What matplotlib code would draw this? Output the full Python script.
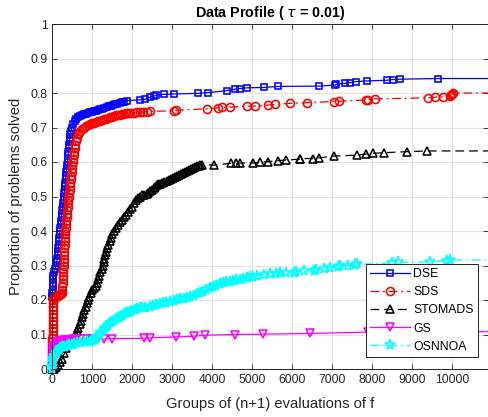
import numpy as np
import matplotlib
matplotlib.use('Agg')
import matplotlib.pyplot as plt
from matplotlib.ticker import FormatStrFormatter

plt.rcParams['font.family'] = ['Liberation Sans', 'DejaVu Sans']

x_max = 10900

# DSE
dse_x = [0, 0, 5, 10, 15, 20, 25, 30, 60, 100, 110, 120, 130, 140, 150, 158, 166, 174, 182, 190,
         200, 210, 220, 230, 240, 250, 260, 270, 280, 290, 299, 308, 317, 326, 335, 344, 353, 362,
         371, 380, 388, 396, 404, 412, 420, 430, 440, 452, 468, 490, 520, 560, 600, 640, 690,
         740, 790, 840, 890, 940, 990, 1040, 1090, 1150, 1200, 1250, 1300, 1360, 1420, 1470,
         1520, 1570, 1620, 1680, 1730, 1800, 1870, 2190, 2320, 2450, 2530, 2600, 2780, 3030,
         3650, 3900, 4360, 4570, 4690, 4860, 5280, 5630, 6670, 7070, 7080, 7320, 7440, 7580,
         7870, 8360, 8510, 8700, 9630]
dse_y = [0.21, 0.22, 0.23, 0.24, 0.25, 0.26, 0.27, 0.28, 0.29, 0.30, 0.31, 0.32, 0.33, 0.34, 0.35,
         0.36, 0.37, 0.38, 0.39, 0.40, 0.41, 0.42, 0.43, 0.44, 0.45, 0.46, 0.47, 0.48, 0.49, 0.50,
         0.51, 0.52, 0.53, 0.54, 0.55, 0.56, 0.57, 0.58, 0.59, 0.60, 0.61, 0.62, 0.63, 0.64, 0.65,
         0.66, 0.67, 0.68, 0.69, 0.70, 0.71, 0.72, 0.725, 0.73, 0.733, 0.736, 0.738, 0.740,
         0.742, 0.744, 0.746, 0.748, 0.749, 0.751, 0.753, 0.755, 0.757, 0.759, 0.761, 0.763,
         0.765, 0.767, 0.769, 0.771, 0.773, 0.775, 0.778, 0.780, 0.782, 0.788, 0.790, 0.794,
         0.796, 0.797, 0.799, 0.801, 0.807, 0.811, 0.813, 0.815, 0.816, 0.819, 0.820, 0.823,
         0.825, 0.828, 0.830, 0.833, 0.835, 0.837, 0.839, 0.840, 0.842]

# SDS
sds_x = [0, 0, 2, 3, 4, 5, 6, 7, 8, 9, 10, 11, 12, 14, 16, 20, 40, 70, 100, 130, 160, 190, 215,
         235, 245, 252, 258, 263, 267, 271, 275, 280, 284, 289, 293, 298, 302, 306, 311, 316, 320,
         325, 333, 341, 350, 358, 367, 375, 384, 392, 401, 410, 420, 430, 440, 450, 460, 470, 480,
         490, 500, 510, 522, 534, 546, 558, 570, 585, 605, 630, 660, 690, 730, 780, 830, 880,
         930, 980, 1030, 1080, 1130, 1180, 1230, 1280, 1330, 1380, 1430, 1480, 1530, 1580, 1630,
         1680, 1730, 1780, 1830, 1880, 1950, 2030, 2110, 2180, 2260, 2360, 2450, 3030, 3100,
         3860, 4150, 4230, 4440, 4860, 5070, 5400, 5570, 5940, 6360, 7040, 7160, 7840, 7880,
         8070, 9400, 9570, 9770, 9930, 9970, 10000, 10010]
sds_y = [0.05, 0.06, 0.07, 0.08, 0.09, 0.10, 0.11, 0.12, 0.13, 0.14, 0.15, 0.16, 0.17, 0.18, 0.19,
         0.20, 0.205, 0.207, 0.21, 0.212, 0.214, 0.216, 0.218, 0.22, 0.23, 0.24, 0.25, 0.26, 0.27,
         0.28, 0.29, 0.30, 0.31, 0.32, 0.33, 0.34, 0.35, 0.36, 0.37, 0.38, 0.39, 0.40, 0.41, 0.42,
         0.43, 0.44, 0.45, 0.46, 0.47, 0.48, 0.49, 0.50, 0.51, 0.52, 0.53, 0.54, 0.55, 0.56, 0.57,
         0.58, 0.59, 0.60, 0.61, 0.62, 0.63, 0.64, 0.65, 0.66, 0.67, 0.68, 0.685, 0.69, 0.695,
         0.70, 0.703, 0.706, 0.709, 0.712, 0.714, 0.716, 0.718, 0.720, 0.722, 0.724, 0.726,
         0.728, 0.730, 0.731, 0.733, 0.735, 0.736, 0.737, 0.739, 0.740, 0.741, 0.741, 0.742,
         0.743, 0.744, 0.745, 0.745, 0.746, 0.747, 0.748, 0.750, 0.754, 0.757, 0.758, 0.759,
         0.762, 0.762, 0.765, 0.767, 0.770, 0.772, 0.775, 0.776, 0.780, 0.781, 0.783, 0.786,
         0.788, 0.789, 0.792, 0.795, 0.798, 0.800]

# STOMADS
sto_x = [0, 50, 100, 150, 200, 250, 300, 350, 400, 450, 500, 550, 590, 620, 650, 680, 710, 740,
         770, 800, 830, 860, 890, 920, 960, 1000, 1040, 1080, 1110, 1140, 1170, 1200, 1230, 1255,
         1280, 1300, 1320, 1345, 1370, 1400, 1430, 1465, 1500, 1540, 1580, 1630, 1680, 1730,
         1780, 1830, 1880, 1930, 1980, 2030, 2080, 2130, 2190, 2250, 2300, 2360, 2400, 2440,
         2480, 2530, 2570, 2610, 2650, 2700, 2750, 2800, 2860, 2910, 2960, 3010, 3060, 3110,
         3160, 3210, 3260, 3310, 3360, 3410, 3460, 3510, 3560, 3610, 3660, 3700, 3735, 4040,
         4460, 4600, 4690, 5020, 5180, 5400, 5650, 5840, 6190, 6200, 6510, 6670, 7030, 7610,
         7840, 8010, 8290, 8860, 9360]
sto_y = [0.0, 0.0, 0.005, 0.012, 0.02, 0.03, 0.045, 0.06, 0.075, 0.08, 0.086, 0.092, 0.10, 0.11,
         0.12, 0.13, 0.14, 0.15, 0.16, 0.17, 0.18, 0.19, 0.20, 0.21, 0.22, 0.228, 0.235, 0.242,
         0.25, 0.26, 0.27, 0.28, 0.29, 0.30, 0.31, 0.32, 0.33, 0.34, 0.35, 0.36, 0.37, 0.38,
         0.39, 0.40, 0.41, 0.418, 0.426, 0.433, 0.44, 0.447, 0.455, 0.463, 0.471, 0.48, 0.489,
         0.496, 0.50, 0.503, 0.505, 0.506, 0.51, 0.515, 0.52, 0.524, 0.528, 0.532, 0.535, 0.537,
         0.54, 0.542, 0.545, 0.548, 0.551, 0.554, 0.557, 0.56, 0.563, 0.566, 0.569, 0.572,
         0.575, 0.578, 0.58, 0.583, 0.585, 0.587, 0.589, 0.59, 0.592, 0.591, 0.596, 0.596,
         0.597, 0.597, 0.599, 0.601, 0.604, 0.606, 0.608, 0.610, 0.610, 0.612, 0.617, 0.620,
         0.623, 0.625, 0.627, 0.630, 0.632]

# GS
gs_x = [0, 0, 2, 4, 6, 8, 12, 20, 30, 50, 80, 110, 150, 200, 250, 300, 360, 420, 480, 525, 600,
        700, 860, 1000, 1280, 1490, 2280, 2440, 3100, 3550, 3810, 4575, 5260, 6440, 7900, 10000]
gs_y = [0.0, 0.01, 0.02, 0.03, 0.04, 0.05, 0.055, 0.06, 0.065, 0.068, 0.071, 0.074, 0.077, 0.079,
        0.081, 0.083, 0.084, 0.085, 0.0855, 0.086, 0.086, 0.086, 0.087, 0.087, 0.087, 0.088,
        0.089, 0.090, 0.093, 0.095, 0.098, 0.100, 0.101, 0.103, 0.107, 0.108]

# OSNNOA
osn_x = [0, 0, 10, 25, 50, 80, 120, 160, 200, 250, 300, 360, 420, 480, 550, 620, 700, 780, 860,
         940, 1000, 1040, 1080, 1120, 1160, 1200, 1240, 1280, 1320, 1360, 1400, 1450, 1500, 1550,
         1600, 1650, 1700, 1750, 1800, 1850, 1900, 1950, 2000, 2060, 2120, 2190, 2250, 2320,
         2440, 2520, 2600, 2680, 2760, 2850, 2940, 3030, 3110, 3200, 3280, 3360, 3440, 3530,
         3610, 3690, 3770, 3850, 3940, 4020, 4100, 4190, 4270, 4350, 4440, 4520, 4600, 4690,
         4770, 4860, 4940, 5020, 5110, 5300, 5450, 5590, 5700, 5850, 6030, 6100, 6300, 6530,
         6600, 6800, 6950, 7150, 7200, 7400, 7570, 7620, 8480, 8650, 9440, 9860, 9940]
osn_y = [0.0, 0.01, 0.02, 0.03, 0.038, 0.045, 0.05, 0.055, 0.06, 0.063, 0.065, 0.067, 0.069,
         0.071, 0.073, 0.074, 0.076, 0.077, 0.078, 0.079, 0.08, 0.083, 0.087, 0.092, 0.097,
         0.103, 0.108, 0.113, 0.118, 0.123, 0.128, 0.132, 0.136, 0.14, 0.144, 0.148, 0.152,
         0.155, 0.158, 0.161, 0.163, 0.165, 0.167, 0.17, 0.173, 0.176, 0.177, 0.178, 0.18,
         0.182, 0.185, 0.187, 0.19, 0.192, 0.194, 0.197, 0.2, 0.202, 0.204, 0.207, 0.21, 0.213,
         0.216, 0.22, 0.224, 0.229, 0.235, 0.239, 0.242, 0.246, 0.249, 0.251, 0.253, 0.255,
         0.257, 0.259, 0.261, 0.263, 0.266, 0.268, 0.271, 0.273, 0.275, 0.276, 0.277, 0.278,
         0.279, 0.281, 0.283, 0.285, 0.287, 0.29, 0.293, 0.297, 0.298, 0.3, 0.301, 0.303, 0.308,
         0.309, 0.310, 0.314, 0.316]

names = ['DSE', 'SDS', 'STOMADS', 'GS', 'OSNNOA']
series = [(dse_x, dse_y), (sds_x, sds_y), (sto_x, sto_y), (gs_x, gs_y), (osn_x, osn_y)]
colors = ['#0000ff', '#ff0000', '#000000', '#ff00ff', '#00ffff']
markers = ['s', 'o', '^', 'v', '*']
msizes = [4.8, 5.8, 6.2, 6, 8]
dashes = [None, (7, 3, 1.5, 3), (7, 4), None, (7, 3, 1.5, 3)]

fig = plt.figure(figsize=(4.89, 4.17), dpi=100)
ax = fig.add_axes([52.3 / 489, 48 / 417, 436.2 / 489, 345 / 417])

for (xs, ys), nm, c, m, ms, d in zip(series, names, colors, markers, msizes, dashes):
    xx = list(xs) + [x_max]
    yy = list(ys) + [ys[-1]]
    ln, = ax.plot(xx, yy, color=c, lw=0.9, marker=m, ms=ms, mfc='none', mew=1.15,
                  markevery=list(range(len(xs))), label=nm, clip_on=False)
    if d is not None:
        ln.set_dashes(d)

ax.set_xlim(0, x_max)
ax.set_ylim(0, 1)
ax.set_xticks(np.arange(0, 10001, 1000))
ax.set_yticks(np.arange(0, 1.01, 0.1))
ax.yaxis.set_major_formatter(FormatStrFormatter('%g'))
ax.grid(True, color='#e3e3e3', lw=0.8)
ax.set_axisbelow(True)
ax.tick_params(direction='in', length=3.5, width=0.6, top=True, right=True,
               labelsize=8.8, colors='#262626', labelcolor='#262626')
for s in ax.spines.values():
    s.set_color('#262626')
    s.set_linewidth(0.7)

ax.set_title(r'Data Profile ( $\tau$ = 0.01)', fontsize=10.3, fontweight='bold', pad=5)
ax.set_xlabel('Groups of (n+1) evaluations of f', fontsize=10.6, color='#262626', labelpad=8)
ax.set_ylabel('Proportion of problems solved', fontsize=10.6, color='#262626', labelpad=5)

leg = ax.legend(loc='lower right', bbox_to_anchor=(0.976, 0.035), fontsize=8.8,
                frameon=True, fancybox=False, edgecolor='#262626', framealpha=1,
                handlelength=3.2, handletextpad=0.3, labelspacing=0.5, borderpad=0.35,
                borderaxespad=0)
leg.get_frame().set_linewidth(0.7)

fig.savefig('out.png', dpi=100)
